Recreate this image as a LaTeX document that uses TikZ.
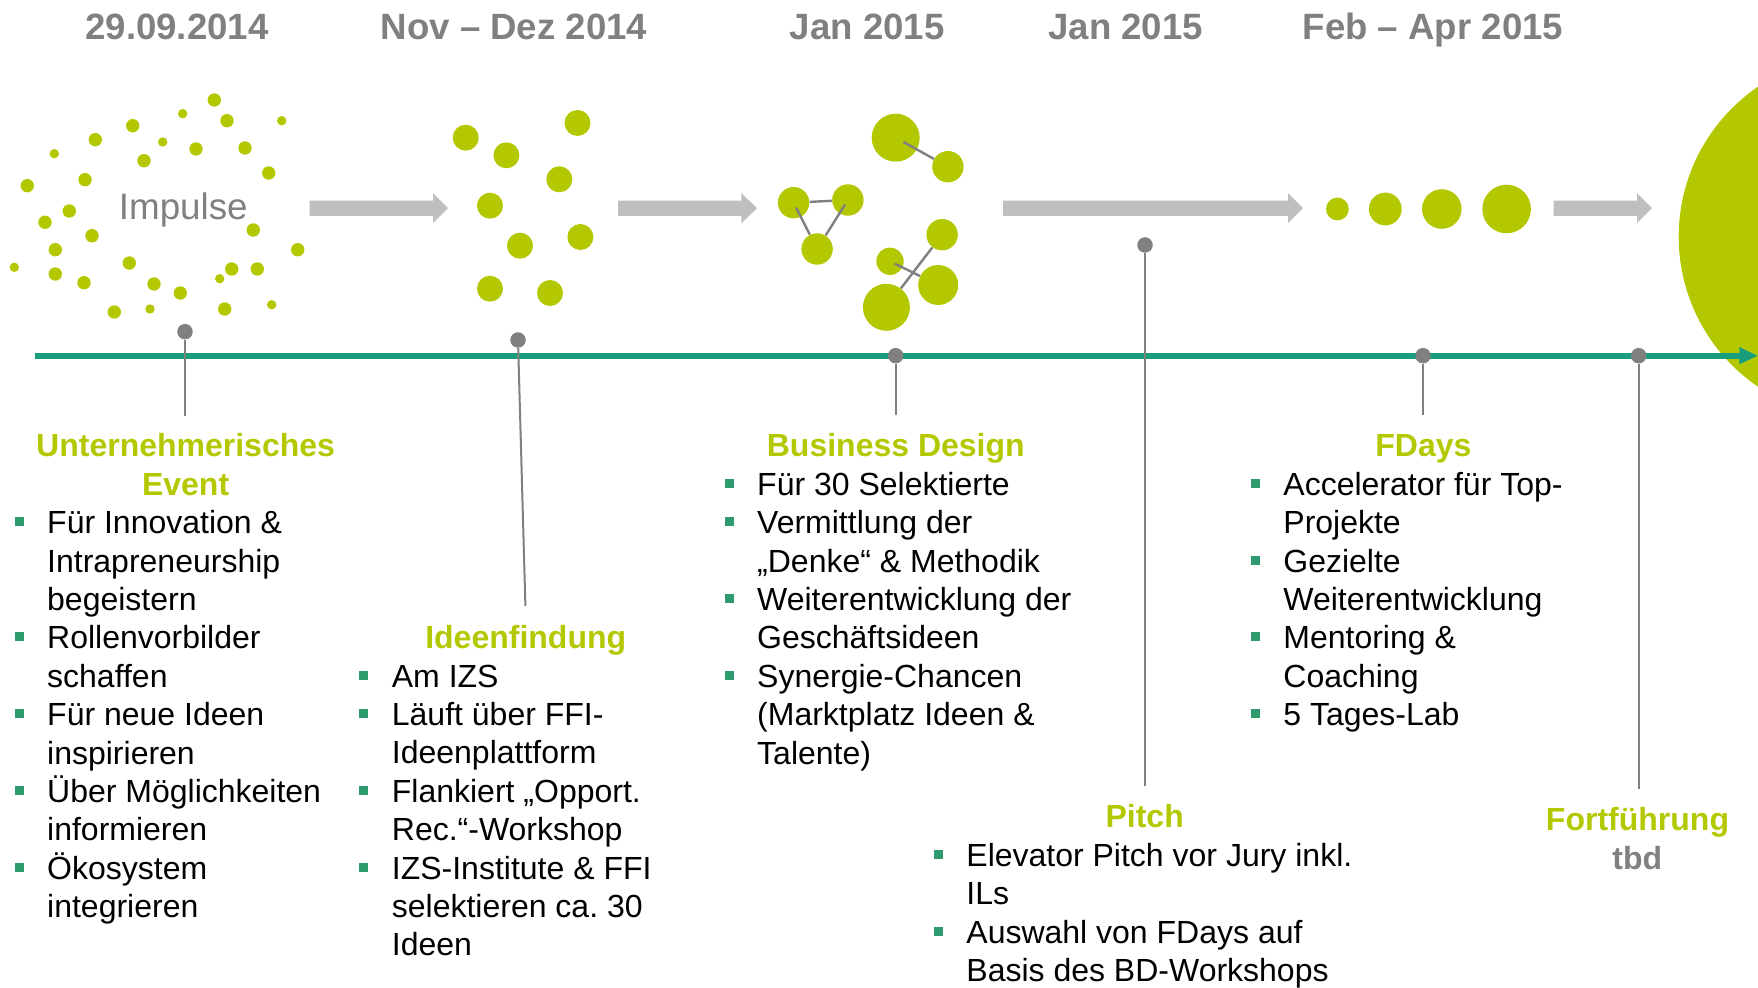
\documentclass[tikz,border=0pt]{standalone}
\usepackage{fontspec}
\setmainfont{Liberation Sans}
\definecolor{lime}{RGB}{179,200,0}
\definecolor{tealc}{RGB}{24,158,124}
\definecolor{bulletc}{RGB}{46,155,110}
\definecolor{pgray}{RGB}{128,128,128}
\definecolor{agray}{RGB}{191,191,191}
\newcommand\tstrut{\rule{0pt}{16pt}}
\newcommand\bitem{\leavevmode\llap{\textcolor{bulletc}{\rule[3.75pt]{4.5pt}{4.5pt}}\hspace{11.8pt}}}
\begin{document}
\begin{tikzpicture}[x=0.5pt,y=-0.5pt,
  bdot/.style={circle,fill=lime,draw=none,inner sep=0pt},
  pinnode/.style={circle,fill=pgray,draw=none,inner sep=0pt,minimum size=7.75pt},
  stemline/.style={draw=pgray,line width=1pt},
  conn/.style={draw=pgray,line width=1.2pt},
  head/.style={font=\fontsize{16pt}{19.2pt}\selectfont\bfseries,text=lime,inner sep=0pt,align=center,anchor=north},
  body/.style={font=\fontsize{16pt}{19.2pt}\selectfont,text=black,inner sep=0pt,align=left,anchor=north west},
  datelabel/.style={font=\fontsize{18.3pt}{22pt}\selectfont\bfseries,text=pgray,inner sep=0pt,anchor=base}]
\useasboundingbox (0,0) rectangle (1758,988);

% dates
\node[datelabel] (d1) at (177,39.3) {29.09.2014};
\node[datelabel] (d2) at (514,39.3) {Nov – Dez 2014};
\node[datelabel] (d3) at (867.3,39.3) {Jan 2015};
\node[datelabel] (d4) at (1125.7,39.3) {Jan 2015};
\node[datelabel] (d5) at (1432.9,39.3) {Feb – Apr 2015};

% Impulse dots
\foreach \x/\y/\r in {214.3/100/6.7, 182.7/113.7/4.7, 227/120.7/6.7, 281.7/120.7/4.7,
  132.7/125.7/6.7, 95.3/139.7/6.7, 162.7/142/4.7, 196/149/6.7, 245/148/6.7,
  54.3/153.7/4.7, 144/160.7/6.7, 85/179.7/6.7, 268.7/173/6.7, 27.3/185.7/6.7,
  69.3/211/6.7, 45/222.3/6.7, 253.3/230/6.7, 92/235.7/6.7, 55.3/249.7/6.7,
  297.7/249.7/6.7, 14.3/267.3/4.7, 129.3/263/6.7, 231.7/269/6.7, 257.3/269/6.7,
  55.3/274/6.7, 84/282.7/6.7, 154/284/6.7, 219.7/278.7/4.7, 180.3/293/6.7,
  114.3/312/6.7, 150/309/4.7, 224.7/309/6.7, 271.7/304.7/4.7}
  \fill[lime] (\x,\y) circle[radius=\r];
\node[font=\fontsize{18.4pt}{22pt}\selectfont,text=pgray,inner sep=0pt,anchor=base] (imp) at (183.3,219.3) {Impulse};

% Ideenfindung dots
\foreach \x/\y in {465.7/137.7, 506.4/155.3, 577.5/123, 559.3/179.3, 490/205.7,
  520/245.7, 580.4/237, 490/288.7, 550/293}
  \fill[lime] (\x,\y) circle[radius=13];

% Business design dots
\node[bdot,minimum size=24pt] (bd1) at (895.7,137.7) {};
\node[bdot,minimum size=15.7pt] (bd2) at (947.9,166.7) {};
\node[bdot,minimum size=15.7pt] (bd3) at (793.6,202.7) {};
\node[bdot,minimum size=15.7pt] (bd4) at (847.9,200) {};
\node[bdot,minimum size=15.7pt] (bd5) at (817.1,249) {};
\node[bdot,minimum size=15.7pt] (bd6) at (942.1,234.7) {};
\node[bdot,minimum size=13.7pt] (bd7) at (890,261.3) {};
\node[bdot,minimum size=20pt] (bd8) at (938.2,285) {};
\node[bdot,minimum size=23.5pt] (bd9) at (886.4,307.3) {};
\draw[conn,shorten <=4.4pt] (bd1.center) -- (bd2);
\draw[conn] (bd3) -- (bd4);
\draw[conn,shorten <=2.7pt] (bd3.center) -- (bd5);
\draw[conn,shorten <=2.7pt] (bd4.center) -- (bd5);
\draw[conn,shorten <=2.6pt] (bd7.center) -- (bd8);
\draw[conn] (bd6) -- (bd9);

% FDays dots
\foreach \x/\r in {1337.4/11.4, 1385.3/16.4, 1441.8/19.8, 1506.6/24.3}
  \fill[lime] (\x,209) circle[radius=\r];

% gray block arrows
\foreach \a/\b/\c in {309.5/433/448, 618/741.4/757, 1003/1288/1303, 1553.5/1637/1652}
  \fill[agray] (\a,200.6) -- (\b,200.6) -- (\b,193.2) -- (\c,208.2) -- (\b,223.2)
    -- (\b,215.8) -- (\a,215.8) -- cycle;

% big circle
\begin{scope}
  \clip (0,0) rectangle (1758,988);
  \fill[lime] (1860.2,236.7) circle[radius=181.5];
\end{scope}

% timeline
\draw[tealc,line width=3pt] (34.8,355.7) -- (1741,355.7);
\fill[tealc] (1739.3,347) -- (1757.5,355.7) -- (1739.3,364.4) -- cycle;

% pins and stems
\node[pinnode] (p1) at (185,331.7) {};
\node[pinnode] (p2) at (518,340) {};
\node[pinnode] (p3) at (895.7,355.7) {};
\node[pinnode] (p4) at (1145,245) {};
\node[pinnode] (p5) at (1423,355.7) {};
\node[pinnode] (p6) at (1638.7,355.7) {};
\coordinate (s1) at (185,416);
\coordinate (s2) at (525.4,606);
\coordinate (s3) at (895.7,415);
\coordinate (s4) at (1145,786);
\coordinate (s5) at (1423,415);
\coordinate (s6) at (1638.7,789);
\draw[stemline] (p1) -- (s1);
\draw[stemline] (p2) -- (s2);
\draw[stemline] (p3) -- (s3);
\draw[stemline] (p4) -- (s4);
\draw[stemline] (p5) -- (s5);
\draw[stemline] (p6) -- (s6);

% text blocks
\node[head] (h1) at (185.6,424.5) {\tstrut Unternehmerisches\\Event};
\node[body] (t1) at (46.8,501.3) {\tstrut\bitem Für Innovation \&\\
Intrapreneurship\\
begeistern\\
\bitem Rollenvorbilder\\
schaffen\\
\bitem Für neue Ideen\\
inspirieren\\
\bitem Über Möglichkeiten\\
informieren\\
\bitem Ökosystem\\
integrieren};

\node[head] (h2) at (525.7,616.3) {\tstrut Ideenfindung};
\node[body] (t2) at (391.5,654.7) {\tstrut\bitem Am IZS\\
\bitem Läuft über FFI-\\
Ideenplattform\\
\bitem Flankiert „Opport.\\
Rec.“-Workshop\\
\bitem IZS-Institute \& FFI\\
selektieren ca.\ 30\\
Ideen};

\node[head] (h3) at (895.8,424.5) {\tstrut Business Design};
\node[body] (t3) at (756.8,462.9) {\tstrut\bitem Für 30 Selektierte\\
\bitem Vermittlung der\\
„Denke“ \& Methodik\\
\bitem Weiterentwicklung der\\
Geschäftsideen\\
\bitem Synergie-Chancen\\
(Marktplatz Ideen \&\\
Talente)};

\node[head] (h4) at (1144.7,795.6) {\tstrut Pitch};
\node[body] (t4) at (966,834) {\tstrut\bitem Elevator Pitch vor Jury inkl.\\
ILs\\
\bitem Auswahl von FDays auf\\
Basis des BD-Workshops};

\node[head] (h5) at (1423.4,424.5) {\tstrut FDays};
\node[body] (t5) at (1283,462.9) {\tstrut\bitem Accelerator für Top-\\
Projekte\\
\bitem Gezielte\\
Weiterentwicklung\\
\bitem Mentoring \&\\
Coaching\\
\bitem 5 Tages-Lab};

\node[head,anchor=base] (h6) at (1637.5,831) {Fortführung};
\node[head,anchor=base,text=pgray] (tbd) at (1637.3,869.3) {tbd};
\end{tikzpicture}
\end{document}
